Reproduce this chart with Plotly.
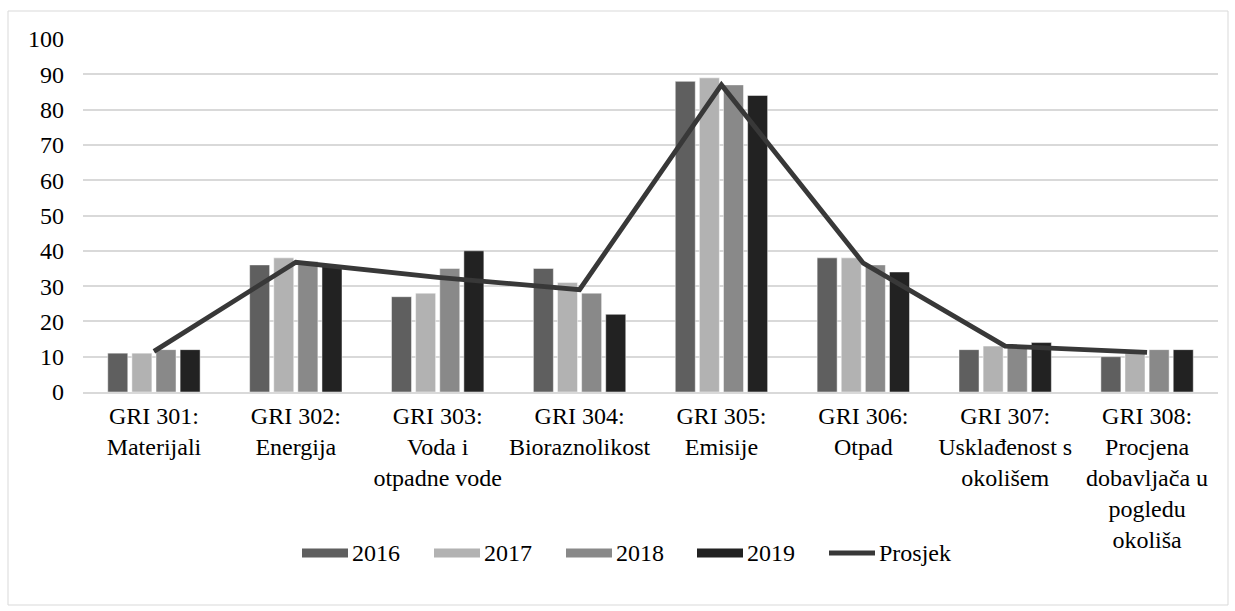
import plotly.graph_objects as go

categories = [
    "GRI 301:<br>Materijali",
    "GRI 302:<br>Energija",
    "GRI 303:<br>Voda i<br>otpadne vode",
    "GRI 304:<br>Bioraznolikost",
    "GRI 305:<br>Emisije",
    "GRI 306:<br>Otpad",
    "GRI 307:<br>Usklađenost s<br>okolišem",
    "GRI 308:<br>Procjena<br>dobavljača u<br>pogledu<br>okoliša",
]
y2016 = [11, 36, 27, 35, 88, 38, 12, 10]
y2017 = [11, 38, 28, 31, 89, 38, 13, 11]
y2018 = [12, 37, 35, 28, 87, 36, 13, 12]
y2019 = [12, 36, 40, 22, 84, 34, 14, 12]
prosjek = [11.5, 36.75, 32.5, 29, 87, 36.5, 13, 11.25]
year_names = ["2016", "2017", "2018", "2019"]
line_name = "Prosjek"
y_ticks = [0, 10, 20, 30, 40, 50, 60, 70, 80, 90, 100]

colors = ["#5f5f5f", "#b2b2b2", "#898989", "#222222"]
line_color = "#383838"
FONT = "'Liberation Serif', 'Times New Roman', 'DejaVu Serif', serif"
FS = 24

W, H = 1235, 611
ML, MR, MT, MB = 83, 17, 39, 219
PW, PH = W - ML - MR, H - MT - MB


def px_x(p):
    return (p - ML) / PW


def px_y(p):
    return (H - MB - p) / PH


fig = go.Figure()
for name, vals, c in zip(year_names, [y2016, y2017, y2018, y2019], colors):
    fig.add_trace(go.Bar(x=categories, y=vals, name=name, marker_color=c,
                         marker_line=dict(color="rgba(255,255,255,0.6)", width=0.8),
                         showlegend=False))
fig.add_trace(go.Scatter(x=categories, y=prosjek, name=line_name, mode="lines",
                         line=dict(color=line_color, width=4.8), showlegend=False))

shapes = [dict(type="rect", xref="paper", yref="paper",
               x0=px_x(8), x1=px_x(1228), y0=px_y(605), y1=px_y(11),
               line=dict(color="#d9d9d9", width=1), fillcolor="rgba(0,0,0,0)", layer="below")]
annotations = []

leg_y = 553
sw_w = 46
starts = [302, 434, 566, 697]
for name, c, s in zip(year_names, colors, starts):
    shapes.append(dict(type="rect", xref="paper", yref="paper",
                       x0=px_x(s), x1=px_x(s + sw_w), y0=px_y(leg_y + 4.5), y1=px_y(leg_y - 4.5),
                       line=dict(width=0), fillcolor=c))
    annotations.append(dict(x=px_x(s + sw_w + 2), y=px_y(leg_y), xref="paper", yref="paper",
                            text=name, showarrow=False, xanchor="left", yanchor="middle",
                            font=dict(family=FONT, size=FS, color="#000")))
ls = 829
shapes.append(dict(type="line", xref="paper", yref="paper",
                   x0=px_x(ls), x1=px_x(ls + sw_w), y0=px_y(leg_y), y1=px_y(leg_y),
                   line=dict(color=line_color, width=4.8)))
annotations.append(dict(x=px_x(ls + sw_w + 2), y=px_y(leg_y), xref="paper", yref="paper",
                        text=line_name, showarrow=False, xanchor="left", yanchor="middle",
                        font=dict(family=FONT, size=FS, color="#000")))

fig.update_layout(
    width=W, height=H,
    margin=dict(l=ML, r=MR, t=MT, b=MB),
    paper_bgcolor="white", plot_bgcolor="white",
    barmode="group", bargap=0.32, bargroupgap=0.17,
    font=dict(family=FONT, size=FS, color="#000"),
    shapes=shapes, annotations=annotations,
    showlegend=False,
    xaxis=dict(showgrid=False, showline=True, linecolor="#d9d9d9", linewidth=1.5,
               ticks="", ticklabelstandoff=1,
               tickfont=dict(family=FONT, size=FS, color="#000")),
    yaxis=dict(range=[0, 100], tickvals=y_ticks, showgrid=True, gridcolor="#d9d9d9",
               gridwidth=1.5, zeroline=False, showline=False, ticks="",
               ticklabelstandoff=18,
               tickfont=dict(family=FONT, size=FS, color="#000")),
)

fig.write_html("out.html", config={"displayModeBar": False},
               post_script="document.body.style.margin='0';")
